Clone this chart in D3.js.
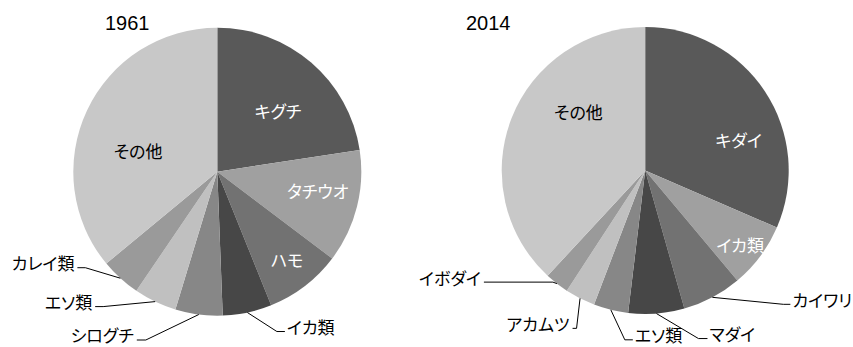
<!DOCTYPE html>
<html>
<head>
<meta charset="utf-8">
<script src="https://cdn.jsdelivr.net/npm/d3@7"></script>
<style>
  body { margin: 0; background: #fff; }
  text { font-family: "Noto Sans CJK JP", "Liberation Sans", sans-serif; font-feature-settings: "palt"; }
</style>
</head>
<body>
<div id="chart"></div>
<script>
// shares (percent)
const labels1961 = ["キグチ", "タチウオ", "ハモ", "イカ類", "シログチ", "エソ類", "カレイ類", "その他"];
const values1961 = [22.6, 12.7, 8.6, 5.5, 5.3, 4.8, 4.5, 36.0];

const labels2014 = ["キダイ", "イカ類", "カイワリ", "マダイ", "エソ類", "アカムツ", "イボダイ", "その他"];
const values2014 = [31.5, 7.4, 6.7, 6.3, 3.9, 3.4, 2.7, 38.1];

const palette = ["#595959", "#a0a0a0", "#727272", "#474747", "#878787", "#c0c0c0", "#9a9a9a", "#c8c8c8"];

const width = 853;
const height = 347;

const svg = d3.select("#chart")
  .append("svg")
  .attr("width", width)
  .attr("height", height);

// label placement: inside -> [angle shift deg, radius ratio], outside -> [elbow dx, elbow dy, horizontal run]
const charts = [
  {
    title: "1961", labels: labels1961, values: values1961,
    cx: 217.3, cy: 171.7, r: 144, titleX: 105,
    inside: { "キグチ": [4, 0.6, "#fff"], "タチウオ": [-3.5, 0.71, "#fff"], "ハモ": [-1, 0.78, "#fff"], "その他": [-10, 0.57, "#000"] },
    outside: { "カレイ類": [-35, -10.5, -8], "エソ類": [-52, 5, -8], "シログチ": [-53, 25.5, -9], "イカ類": [29.5, 19, 8] }
  },
  {
    title: "2014", labels: labels2014, values: values2014,
    cx: 645.2, cy: 170.5, r: 143.5, titleX: 466,
    inside: { "キダイ": [15, 0.685, "#fff"], "イカ類": [1.3, 0.84, "#fff"], "その他": [20, 0.62, "#000"] },
    outside: { "イボダイ": [-4, -1.5, -69], "アカムツ": [-3.5, 30, -4], "エソ類": [14, 30, 8], "マダイ": [42, 25, 9], "カイワリ": [71, 7, 7] }
  }
];

const pie = d3.pie().value(d => d.value).sort(null);

charts.forEach(c => {
  const data = c.labels.map((label, i) => ({ label, value: c.values[i] }));
  const color = d3.scaleOrdinal().domain(c.labels).range(palette);
  const arc = d3.arc().innerRadius(0).outerRadius(c.r);
  const edge = d3.arc().innerRadius(c.r).outerRadius(c.r);

  svg.append("text")
    .attr("x", c.titleX)
    .attr("y", 30)
    .style("font-family", "'Liberation Sans', Arial, sans-serif")
    .style("font-size", "20px")
    .attr("fill", "#000")
    .text(c.title);

  const g = svg.append("g")
    .attr("transform", `translate(${c.cx}, ${c.cy})`);

  const arcs = pie(data);

  g.selectAll("path")
    .data(arcs)
    .join("path")
    .attr("d", arc)
    .attr("fill", d => color(d.data.label));

  // labels inside the slices
  arcs.filter(d => c.inside[d.data.label]).forEach(d => {
    const [shift, ratio, fill] = c.inside[d.data.label];
    const a = (d.startAngle + d.endAngle) / 2 + shift * Math.PI / 180;
    const rr = c.r * ratio;
    g.append("text")
      .attr("x", rr * Math.sin(a))
      .attr("y", -rr * Math.cos(a))
      .attr("text-anchor", "middle")
      .attr("dominant-baseline", "central")
      .style("font-size", "17px")
      .attr("fill", fill)
      .text(d.data.label);
  });

  // labels outside with leader lines
  arcs.filter(d => c.outside[d.data.label]).forEach(d => {
    const [dx, dy, run] = c.outside[d.data.label];
    const [ex, ey] = edge.centroid(d);
    const bx = ex + dx, by = ey + dy;
    const hx = bx + run;
    g.append("path")
      .attr("d", d3.line()([[ex, ey], [bx, by], [hx, by]]))
      .attr("fill", "none")
      .attr("stroke", "#000")
      .attr("stroke-width", 1);
    g.append("text")
      .attr("x", run < 0 ? hx - 3 : hx + 2)
      .attr("y", by - 5)
      .attr("text-anchor", run < 0 ? "end" : "start")
      .attr("dominant-baseline", "central")
      .style("font-size", "17px")
      .attr("fill", "#000")
      .text(d.data.label);
  });
});
</script>
</body>
</html>
